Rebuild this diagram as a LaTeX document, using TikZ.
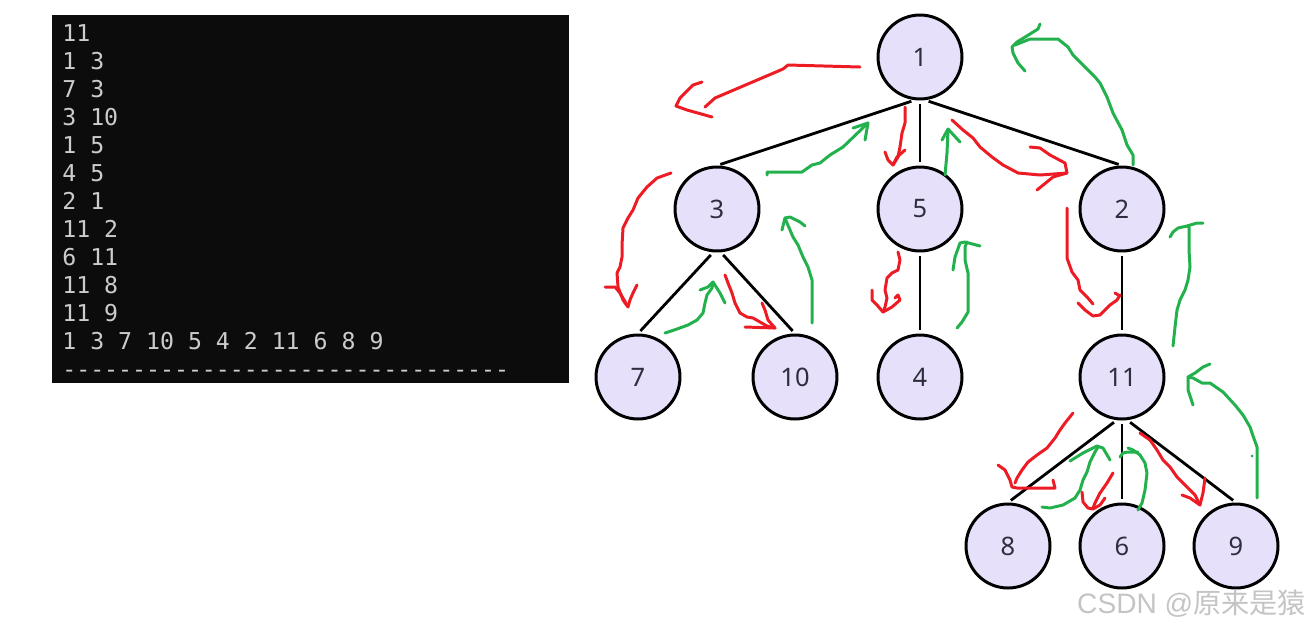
\documentclass[tikz,border=0pt]{standalone}
\usepackage{fontspec}
\newfontfamily\termfont{DejaVu Sans Mono}
\newfontfamily\vertfont{Noto Sans}
\newfontfamily\marklatin{Liberation Sans}
\newfontfamily\cjk{Noto Sans CJK SC}
\definecolor{termbg}{HTML}{0C0C0C}
\definecolor{termfg}{HTML}{CCCCCC}
\definecolor{vertbg}{HTML}{E6E0FA}
\definecolor{vertfg}{HTML}{2E2E3E}
\definecolor{penred}{HTML}{ED1C24}
\definecolor{pengreen}{HTML}{22B14C}
\definecolor{markgray}{HTML}{C4C4C4}
\tikzset{
  vertex/.style={circle, draw=black, line width=1.7pt, fill=vertbg, minimum size=1.68cm, inner sep=0pt,
    font=\vertfont\fontsize{14.5pt}{16pt}\selectfont, text=vertfg},
  edge/.style={line width=1.6pt, shorten >=2pt, shorten <=2pt},
  termtext/.style={anchor=base west, inner sep=0pt, text=termfg, font=\termfont\fontsize{13.2pt}{15pt}\selectfont},
  redpen/.style={penred, line width=1.7pt, line join=round, line cap=round},
  greenpen/.style={pengreen, line width=1.7pt, line join=round, line cap=round}
}

\begin{document}
\begin{tikzpicture}[x=0.02cm, y=-0.02cm]
\useasboundingbox (0,0) rectangle (1311,627);

% Terminal output
\fill[termbg] (52,15) rectangle (569,383);
\foreach \row [count=\i from 0] in {11, 1 3, 7 3, 3 10, 1 5, 4 5, 2 1, 11 2, 6 11, 11 8, 11 9, 1 3 7 10 5 4 2 11 6 8 9}
  \node[termtext] (line\i) at (62,{41+28*\i}) {\row};
\node[termtext] (rule) at (62,377) {-{}-{}-{}-{}-{}-{}-{}-{}-{}-{}-{}-{}-{}-{}-{}-{}-{}-{}-{}-{}-{}-{}-{}-{}-{}-{}-{}-{}-{}-{}-{}-{}};

% Tree
\node[vertex] (n1) at (920,57) {1};
\node[vertex] (n3) at (717,209) {3};
\node[vertex] (n5) at (920,209) {5};
\node[vertex] (n2) at (1122,209) {2};
\node[vertex] (n7) at (638,377) {7};
\node[vertex] (n10) at (795,377) {10};
\node[vertex] (n4) at (920,377) {4};
\node[vertex] (n11) at (1122,377) {11};
\node[vertex] (n8) at (1008,546) {8};
\node[vertex] (n6) at (1122,546) {6};
\node[vertex] (n9) at (1236,546) {9};

\draw[edge] (n1.-97) -- (n3.north);
\draw[edge] (n1.south) -- (n5.north);
\draw[edge] (n1.-83) -- (n2.north);
\draw[edge] (n3.-95) -- (n7.north);
\draw[edge] (n3.-85) -- (n10.north);
\draw[edge] (n5.south) -- (n4.north);
\draw[edge] (n2.south) -- (n11.north);
\draw[edge] (n11.-97) -- (n8.north);
\draw[edge] (n11.south) -- (n6.north);
\draw[edge] (n11.-83) -- (n9.north);

% Red strokes (going down)
\draw[redpen] (860,67) -- (788,65) -- (783,69) -- (715,98) -- (705,107);
\draw[redpen] (702,82) -- (693,85) -- (680,98) -- (676,106) -- (687,110) -- (712,117);
\draw[redpen] (905,107) -- (905,123) -- (902,133) -- (900,147) -- (898,157) -- (893,165);
\draw[redpen] (885,152) -- (888,160) -- (893,165) -- (897,157) -- (905,150);
\draw[redpen] (952,120) -- (963,130) -- (973,138) -- (980,147) -- (992,157) -- (1003,165) -- (1018,173) -- (1040,175) -- (1067,173);
\draw[redpen] (1030,147) -- (1040,148) -- (1050,155) -- (1065,163) -- (1067,173) -- (1053,177) -- (1037,190);
\draw[redpen] (671,173) -- (657,178) -- (647,187) -- (638,198) -- (633,210) -- (628,218) -- (623,228) -- (622,245) -- (622,257) -- (620,267) -- (617,273) -- (618,287) -- (623,300) -- (628,307) -- (630,300) -- (633,293) -- (637,285);
\draw[redpen] (605,287) -- (615,287) -- (620,293) -- (627,305);
\draw[redpen] (725,275) -- (728,283) -- (732,293) -- (735,303) -- (740,313) -- (747,317) -- (753,318) -- (760,322) -- (767,326) -- (775,328);
\draw[redpen] (762,303) -- (765,310) -- (768,320) -- (775,328);
\draw[redpen] (745,327) -- (775,328);
\draw[redpen] (898,252) -- (900,260) -- (898,270) -- (892,273) -- (887,278) -- (885,290) -- (887,298) -- (885,307) -- (883,312);
\draw[redpen] (872,290) -- (872,300) -- (877,305) -- (883,312) -- (892,307) -- (900,300) -- (898,295) -- (895,298);
\draw[redpen] (1067,208) -- (1067,258) -- (1072,272) -- (1078,280) -- (1080,290) -- (1087,297) -- (1093,304);
\draw[redpen] (1078,303) -- (1085,310) -- (1093,316) -- (1100,315) -- (1110,305) -- (1117,300) -- (1120,295);
\draw[redpen] (1115,293) -- (1120,296);
\draw[redpen] (1073,413) -- (1065,423) -- (1060,430) -- (1055,438) -- (1047,448) -- (1037,455) -- (1028,462) -- (1022,470) -- (1017,478) -- (1015,483);
\draw[redpen] (998,465) -- (1005,470) -- (1010,480) -- (1012,487) -- (1017,488) -- (1055,488) -- (1053,480);
\draw[redpen] (1113,473) -- (1107,483) -- (1100,493) -- (1095,503) -- (1093,508);
\draw[redpen] (1082,492) -- (1083,502) -- (1088,508) -- (1093,509) -- (1100,505) -- (1105,498);
\draw[redpen] (1140,433) -- (1150,440) -- (1157,450) -- (1163,460) -- (1170,467) -- (1177,477) -- (1183,483) -- (1190,490) -- (1195,495) -- (1200,505);
\draw[redpen] (1182,495) -- (1190,498) -- (1200,505) -- (1203,493) -- (1205,478);

% Green strokes (going back up)
\draw[greenpen] (767,175) -- (767,172) -- (802,172) -- (812,165) -- (820,163) -- (830,155) -- (843,147) -- (868,123);
\draw[greenpen] (853,128) -- (868,123) -- (865,140);
\draw[greenpen] (945,175) -- (947,153) -- (948,130);
\draw[greenpen] (942,140) -- (948,129) -- (960,142);
\draw[greenpen] (1133,165) -- (1133,155) -- (1127,145) -- (1122,130) -- (1113,113) -- (1107,97) -- (1100,83) -- (1095,77) -- (1085,67) -- (1073,55) -- (1068,47) -- (1058,39) -- (1030,39) -- (1020,43) -- (1015,45);
\draw[greenpen] (1040,24) -- (1038,29) -- (1030,34) -- (1017,42) -- (1012,47) -- (1013,53) -- (1018,63) -- (1025,71);
\draw[greenpen] (665,333) -- (677,329) -- (688,325) -- (697,320) -- (703,313) -- (705,303) -- (707,295) -- (712,288) -- (713,282);
\draw[greenpen] (700,290) -- (708,287) -- (713,282) -- (720,293) -- (725,303);
\draw[greenpen] (812,323) -- (812,280) -- (808,267) -- (803,257) -- (798,245) -- (793,237) -- (787,223) -- (785,218);
\draw[greenpen] (782,230) -- (785,218) -- (790,217) -- (800,222) -- (805,226);
\draw[greenpen] (957,328) -- (962,322) -- (968,312) -- (968,273) -- (965,260) -- (965,247) -- (967,242);
\draw[greenpen] (953,270) -- (955,257) -- (960,243) -- (965,242) -- (980,246);
\draw[greenpen] (1173,346) -- (1175,327) -- (1177,310) -- (1180,300) -- (1185,290) -- (1188,280) -- (1190,267) -- (1189,250) -- (1189,227) -- (1187,226);
\draw[greenpen] (1170,237) -- (1173,232) -- (1178,228) -- (1187,226) -- (1197,223) -- (1203,223);
\draw[greenpen] (1042,507) -- (1050,508) -- (1063,505) -- (1075,498) -- (1080,490) -- (1083,480) -- (1087,472) -- (1090,462) -- (1095,452) -- (1098,447);
\draw[greenpen] (1070,461) -- (1083,453) -- (1097,446) -- (1103,448) -- (1110,460);
\draw[greenpen] (1138,510) -- (1142,503) -- (1145,490) -- (1147,473) -- (1145,463) -- (1140,455) -- (1133,450) -- (1128,448);
\draw[greenpen] (1120,457) -- (1123,453) -- (1128,452) -- (1138,452);
\draw[greenpen] (1257,498) -- (1257,447) -- (1252,433) -- (1250,427) -- (1243,415) -- (1235,405) -- (1223,392) -- (1210,383) -- (1202,383) -- (1193,378) -- (1188,377);
\draw[greenpen] (1210,364) -- (1203,367) -- (1195,373) -- (1188,377) -- (1188,390) -- (1193,405);
\fill[pengreen] (1252,456) circle (1.5);

% Watermark
\node[anchor=base east, inner sep=0pt, text=markgray] (mark) at (1306,613)
  {\fontsize{16pt}{18pt}\selectfont\marklatin CSDN @\cjk 原来是猿};
\end{tikzpicture}
\end{document}
